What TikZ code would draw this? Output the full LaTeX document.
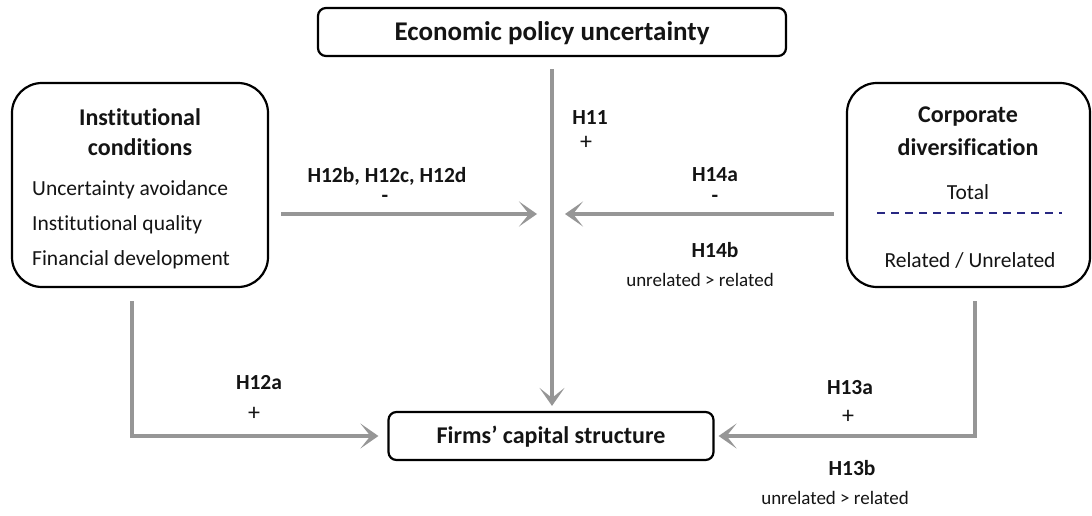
\documentclass[tikz,border=0pt]{standalone}
\usepackage{fontspec}
\setmainfont{Carlito}[Ligatures={NoCommon}]
\usetikzlibrary{arrows.meta}
\definecolor{arrgray}{RGB}{150,150,150}
\definecolor{txt}{RGB}{20,20,20}
\definecolor{dashnavy}{RGB}{40,40,130}
\begin{document}
\begin{tikzpicture}[x=1pt,y=-1pt,
  box/.style={draw=black, line width=2.2pt, rounded corners=8pt, inner sep=0pt},
  bigbox/.style={draw=black, line width=2.2pt, rounded corners=30pt, inner sep=0pt},
  conn/.style={draw=arrgray, line width=4pt, -{Stealth[length=18pt,width=25pt,inset=10pt]}},
  ttl/.style={font=\fontsize{24}{29}\selectfont\bfseries, text=txt, inner sep=0pt},
  hyp/.style={font=\fontsize{21.5}{26}\selectfont\bfseries, text=txt, inner sep=0pt},
  minus/.style={font=\fontsize{21.5}{26}\selectfont\bfseries, text=txt, inner sep=0pt, text height=3pt, text depth=0pt},
  plus/.style={font=\fontsize{24}{28}\selectfont, text=txt, inner sep=0pt},
  itm/.style={font=\fontsize{21.5}{26}\selectfont, text=txt, inner sep=0pt},
  sml/.style={font=\fontsize{19}{23}\selectfont, text=txt, inner sep=0pt}]
\useasboundingbox[fill=white] (0,0) rectangle (1092,516);

% boxes
\node[box, minimum width=468pt, minimum height=48pt] (epu) at (552,32) {};
\node[ttl, font=\fontsize{27}{32}\selectfont\bfseries] (epuT) at (552,33) {Economic policy uncertainty};

\node[bigbox, minimum width=256pt, minimum height=204pt] (inst) at (140,185) {};
\node[ttl] (instT1) at (140,117) {Institutional};
\node[ttl] (instT2) at (140,147) {conditions};
\node[itm, anchor=west] (i1) at (32,190) {Uncertainty avoidance};
\node[itm, anchor=west] (i2) at (32,225) {Institutional quality};
\node[itm, anchor=west] (i3) at (32,260) {Financial development};

\node[bigbox, minimum width=243pt, minimum height=204pt] (corp) at (968.5,185) {};
\node[ttl] (corpT1) at (968,117) {Corporate};
\node[ttl] (corpT2) at (968,147) {diversification};
\node[itm] (tot) at (968,192) {Total};
\coordinate (dl) at (877,213);
\coordinate (dr) at (1062,213);
\draw[dashnavy, line width=1.2pt, dash pattern=on 8pt off 6pt] (dl) -- (dr);
\node[itm] (rel) at (970,260) {Related / Unrelated};

\node[box, minimum width=325pt, minimum height=48pt] (firms) at (551,436) {};
\node[ttl] (firmsT) at (551,437) {Firms’ capital structure};

% connectors
\coordinate (mid) at (552,214);
\draw[conn, shorten <=12pt, shorten >=5pt] (epu.south) -- (epu.south |- firms.north);
\draw[conn, shorten <=12pt, shorten >=15pt] (inst.east |- mid) -- (mid);
\draw[conn, shorten <=12pt, shorten >=13pt] (corp.west |- mid) -- (mid);
\draw[conn, shorten <=13pt, shorten >=9pt] ([xshift=-8pt]inst.south) |- (firms.west);
\draw[conn, shorten <=13pt, shorten >=4pt] ([xshift=6.5pt]corp.south) |- (firms.east);

% labels
\node[hyp] (h11) at (590,118) {H11};
\node[plus] (h11s) at (586,143) {+};
\node[hyp] (h12b) at (387,176) {H12b, H12c, H12d};
\node[minus] (h12bs) at (385,201) {-};
\node[hyp] (h14a) at (715,175) {H14a};
\node[minus] (h14as) at (715,201) {-};
\node[hyp] (h14b) at (715,250) {H14b};
\node[sml] (h14bt) at (700,280) {unrelated > related};
\node[hyp] (h12a) at (259,383) {H12a};
\node[plus] (h12as) at (254,414) {+};
\node[hyp] (h13a) at (850,388) {H13a};
\node[plus] (h13as) at (848,417) {+};
\node[hyp] (h13b) at (852,468) {H13b};
\node[sml] (h13bt) at (835,498) {unrelated > related};
\end{tikzpicture}
\end{document}
